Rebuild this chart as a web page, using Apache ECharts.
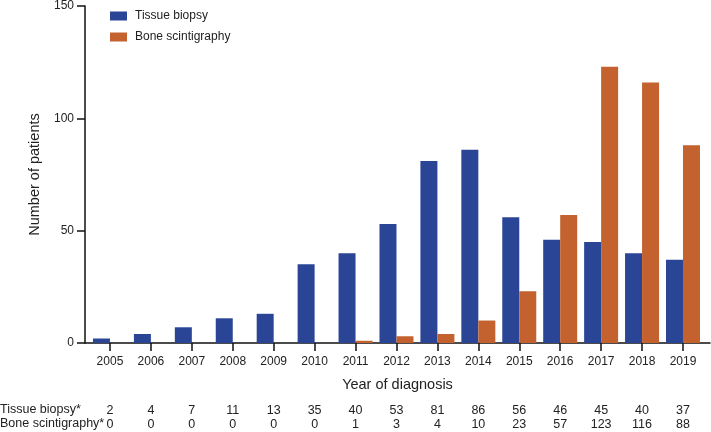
<!DOCTYPE html>
<html>
<head>
<meta charset="utf-8">
<script src="https://cdn.jsdelivr.net/npm/echarts@6/dist/echarts.min.js"></script>
<style>html,body{margin:0;padding:0;background:#fff}#c{width:711px;height:432px}</style>
</head>
<body>
<div id="c"></div>
<script>
var years = [2005,2006,2007,2008,2009,2010,2011,2012,2013,2014,2015,2016,2017,2018,2019];
var tissueBiopsy = [2,4,7,11,13,35,40,53,81,86,56,46,45,40,37];
var boneScintigraphy = [0,0,0,0,0,0,1,3,4,10,23,57,123,116,88];
var yTicks = [0,50,100,150];

var FONT = 'Liberation Sans';
var TXT = '#222';
var chart = echarts.init(document.getElementById('c'));

function rowAxis(offset, arr) {
  return {
    type: 'value', gridIndex: 0, position: 'bottom', offset: offset,
    min: 2004.39, max: 2019.66,
    axisLine: {show: false}, axisTick: {show: false}, splitLine: {show: false},
    axisLabel: {
      customValues: years, margin: 0, verticalAlign: 'middle',
      color: TXT, fontFamily: FONT, fontSize: 12.5,
      formatter: function (v) { var i = years.indexOf(Math.round(v)); return i < 0 ? '' : String(arr[i]); }
    }
  };
}

chart.setOption({
  animation: false,
  backgroundColor: '#fff',
  textStyle: {fontFamily: FONT},
  grid: {left: 85, right: 1, top: 5.5, bottom: 89, containLabel: false},
  legend: {
    orient: 'vertical', left: 105, top: 5, itemWidth: 17, itemHeight: 9, itemGap: 9,
    icon: 'rect',
    textStyle: {color: TXT, fontFamily: FONT, fontSize: 12, padding: [0, 0, 0, 3]},
    data: ['Tissue biopsy', 'Bone scintigraphy']
  },
  xAxis: [{
    type: 'value', min: 2004.39, max: 2019.66,
    name: 'Year of diagnosis', nameLocation: 'middle', nameGap: 34,
    nameTextStyle: {color: TXT, fontFamily: FONT, fontSize: 14.5},
    axisLine: {show: true, lineStyle: {color: '#111', width: 1.5}},
    axisTick: {show: true, customValues: years, length: 8, lineStyle: {color: '#111', width: 1.5}},
    axisLabel: {customValues: years, margin: 13, color: TXT, fontFamily: FONT, fontSize: 12,
      formatter: function (v) { return String(Math.round(v)); }},
    splitLine: {show: false}
  }, rowAxis(68, tissueBiopsy), rowAxis(82, boneScintigraphy)],
  yAxis: {
    type: 'value', min: 0, max: 150, interval: 50,
    name: 'Number of patients', nameLocation: 'middle', nameGap: 43,
    nameTextStyle: {color: TXT, fontFamily: FONT, fontSize: 14.5},
    axisLine: {show: true, lineStyle: {color: '#111', width: 1.5}},
    axisTick: {show: true, length: 8, lineStyle: {color: '#111', width: 1.5}},
    axisLabel: {margin: 11, color: TXT, fontFamily: FONT, fontSize: 12},
    splitLine: {show: false}
  },
  graphic: [
    {type: 'text', left: 0, top: 403, style: {text: 'Tissue biopsy*', fill: TXT, font: '12.5px ' + FONT}},
    {type: 'text', left: 0, top: 417, style: {text: 'Bone scintigraphy*', fill: TXT, font: '12.5px ' + FONT}}
  ],
  series: [{
    name: 'Tissue biopsy', type: 'bar', barWidth: 17, barGap: '0%',
    itemStyle: {color: '#2a4596'},
    data: years.map(function (y, i) { return [y, tissueBiopsy[i]]; })
  }, {
    name: 'Bone scintigraphy', type: 'bar', barWidth: 17, barGap: '0%',
    itemStyle: {color: '#c4622f'},
    data: years.map(function (y, i) { return [y, boneScintigraphy[i]]; })
  }]
});
</script>
</body>
</html>
